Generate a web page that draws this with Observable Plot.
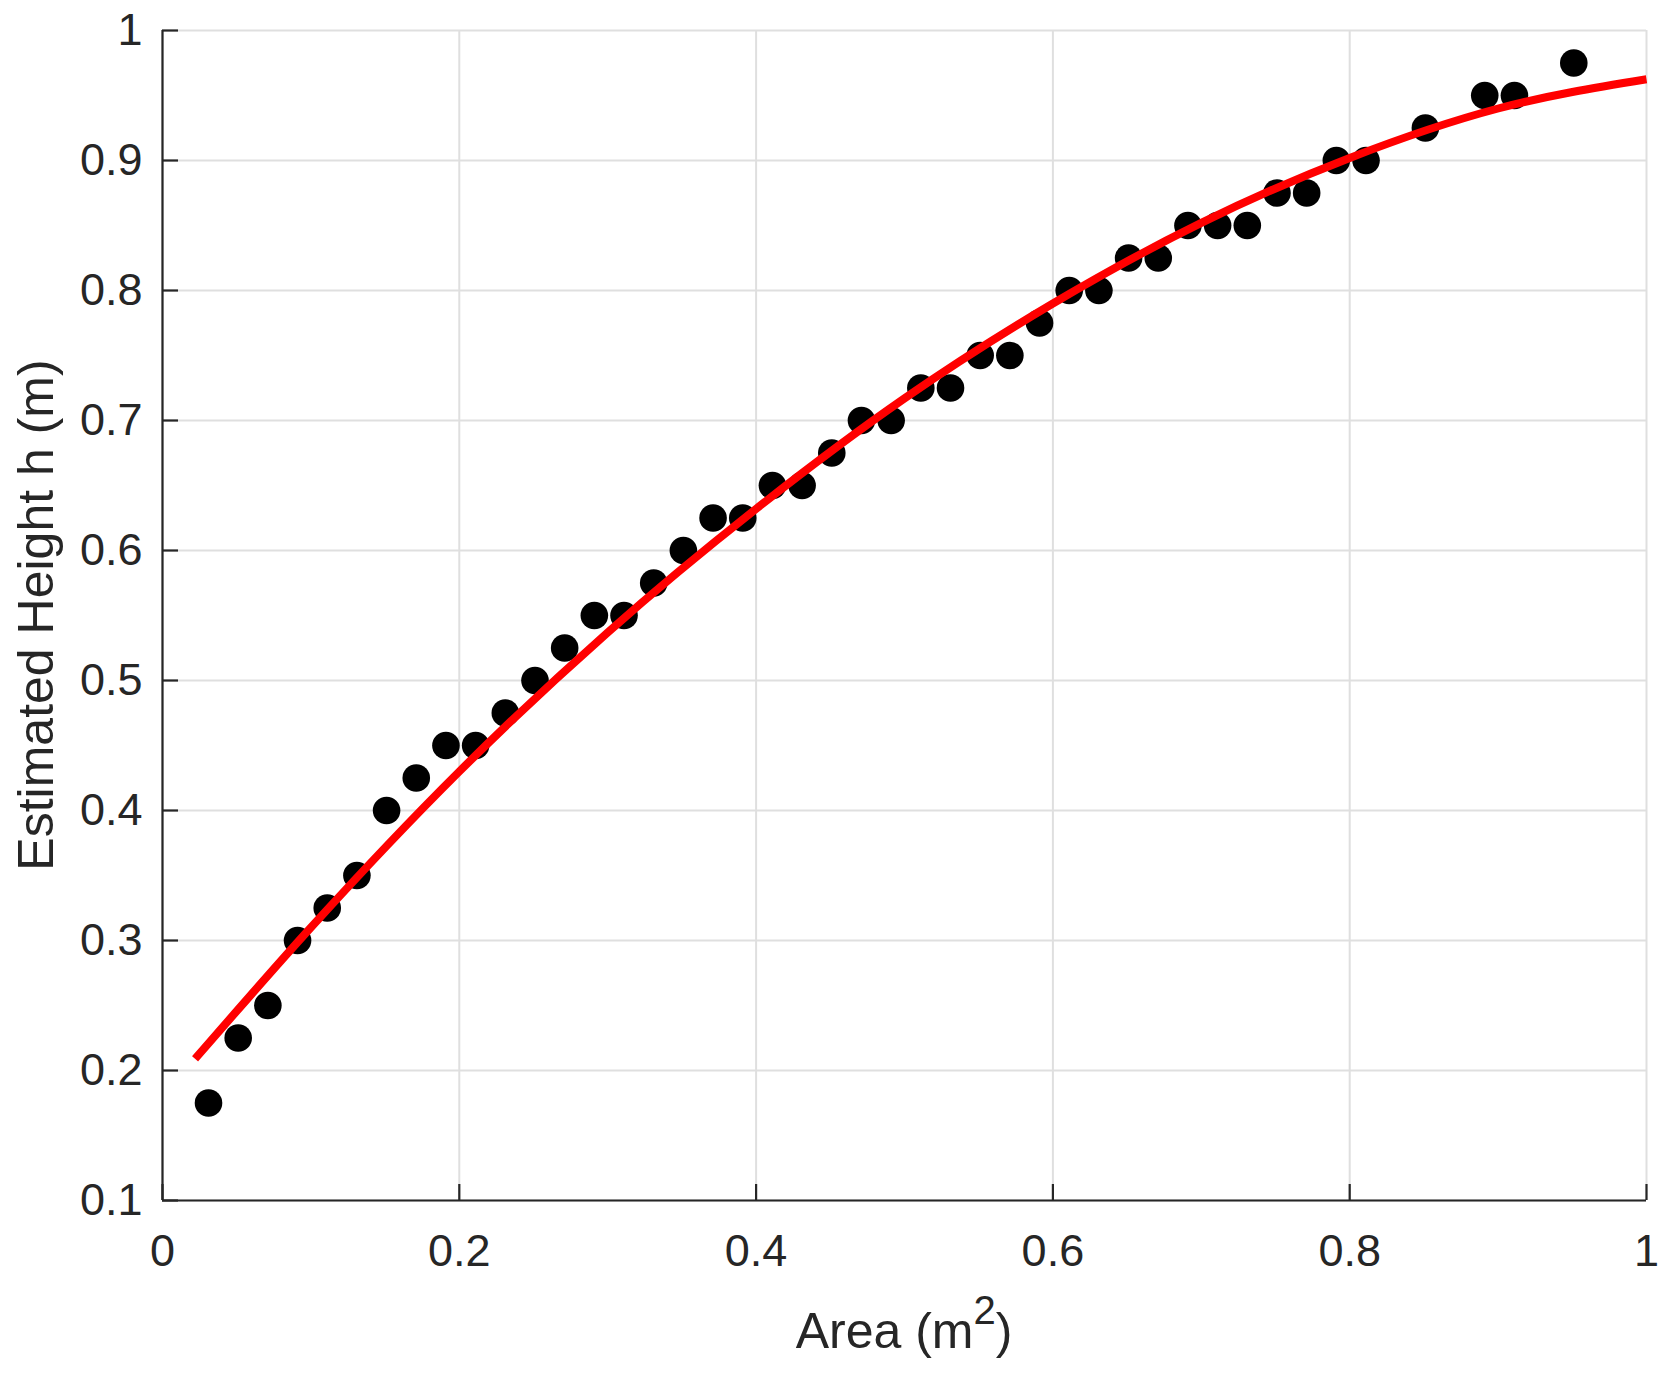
<!DOCTYPE html>
<html>
<head>
<meta charset="utf-8">
<script src="https://cdn.jsdelivr.net/npm/d3@7"></script>
<script src="https://cdn.jsdelivr.net/npm/@observablehq/plot@0.6"></script>
<style>
  html, body { margin: 0; padding: 0; background: #ffffff; }
  svg { display: block; }
</style>
</head>
<body>
<div id="chart"></div>
<script>
// Measured data points: Area (m^2) and estimated height h (m)
const areaX = [0.031, 0.051, 0.071, 0.091, 0.111, 0.131, 0.151, 0.171, 0.191, 0.211,
               0.231, 0.251, 0.271, 0.291, 0.311, 0.331, 0.351, 0.371, 0.391, 0.411,
               0.431, 0.451, 0.471, 0.491, 0.511, 0.531, 0.551, 0.571, 0.591, 0.611,
               0.631, 0.651, 0.671, 0.691, 0.711, 0.731, 0.751, 0.771, 0.791, 0.811,
               0.851, 0.891, 0.911, 0.951];
const heightY = [0.175, 0.225, 0.25, 0.30, 0.325, 0.35, 0.40, 0.425, 0.45, 0.45,
                 0.475, 0.50, 0.525, 0.55, 0.55, 0.575, 0.60, 0.625, 0.625, 0.65,
                 0.65, 0.675, 0.70, 0.70, 0.725, 0.725, 0.75, 0.75, 0.775, 0.80,
                 0.80, 0.825, 0.825, 0.85, 0.85, 0.85, 0.875, 0.875, 0.90, 0.90,
                 0.925, 0.95, 0.95, 0.975];

// Fitted curve (red)
const fitX = [0.022, 0.1, 0.2, 0.3, 0.4, 0.5, 0.6, 0.7, 0.8, 0.9, 1.0];
const fitY = [0.209, 0.310, 0.430, 0.537, 0.632, 0.717, 0.790, 0.852, 0.902, 0.940, 0.9625];

// Tick values
const xTicks = [0, 0.2, 0.4, 0.6, 0.8, 1];
const yTicks = [0.1, 0.2, 0.3, 0.4, 0.5, 0.6, 0.7, 0.8, 0.9, 1];

const xLabelMain = "Area (m";
const xLabelSup = "2";
const xLabelEnd = ")";
const yLabel = "Estimated Height h (m)";

const points = areaX.map((x, i) => ({x, y: heightY[i]}));
const fit = fitX.map((x, i) => ({x, y: fitY[i]}));

const FONT = '"Liberation Sans", Arial, Helvetica, sans-serif';
const INK = "#262626";
const GRID = "#dfdfdf";
const W = 1670, H = 1375;
const mL = 162, mR = 24, mT = 30, mB = 175;
const fmt = d => String(d);

const chart = Plot.plot({
  width: W,
  height: H,
  marginLeft: mL,
  marginRight: mR,
  marginTop: mT,
  marginBottom: mB,
  style: {fontFamily: FONT, background: "#ffffff", color: INK, overflow: "visible"},
  x: {domain: [0, 1]},
  y: {domain: [0.1, 1]},
  marks: [
    Plot.gridX(xTicks, {stroke: GRID, strokeOpacity: 1, strokeWidth: 2}),
    Plot.gridY(yTicks, {stroke: GRID, strokeOpacity: 1, strokeWidth: 2}),
    Plot.ruleX([0], {stroke: INK, strokeWidth: 2.2}),
    Plot.ruleY([0.1], {stroke: INK, strokeWidth: 2.2}),
    Plot.dot(points, {x: "x", y: "y", r: 13.8, fill: "#000000", stroke: null}),
    Plot.line(fit, {x: "x", y: "y", stroke: "#ff0000", strokeWidth: 8, curve: "monotone-x", strokeLinecap: "butt"}),
    Plot.axisX(xTicks, {tickSize: -16, tickPadding: 50, stroke: INK, strokeWidth: 2.2, fill: INK, fontSize: 45, tickFormat: fmt, label: null}),
    Plot.axisY(yTicks, {tickSize: -16, tickPadding: 36, stroke: INK, strokeWidth: 2.2, fill: INK, fontSize: 45, tickFormat: fmt, label: null})
  ]
});

const svg = d3.select(chart);
const cx = (mL + (W - mR)) / 2;
const cy = (mT + (H - mB)) / 2;

const xl = svg.append("text")
  .attr("x", cx)
  .attr("y", 1348)
  .attr("text-anchor", "middle")
  .attr("font-family", FONT)
  .attr("font-size", 50)
  .attr("fill", INK);
xl.append("tspan").text(xLabelMain);
xl.append("tspan").attr("dy", -24).attr("font-size", 40).text(xLabelSup);
xl.append("tspan").attr("dy", 24).text(xLabelEnd);

svg.append("text")
  .attr("transform", `translate(53,${cy}) rotate(-90)`)
  .attr("text-anchor", "middle")
  .attr("font-family", FONT)
  .attr("font-size", 50)
  .attr("fill", INK)
  .text(yLabel);

document.getElementById("chart").appendChild(chart);
</script>
</body>
</html>
